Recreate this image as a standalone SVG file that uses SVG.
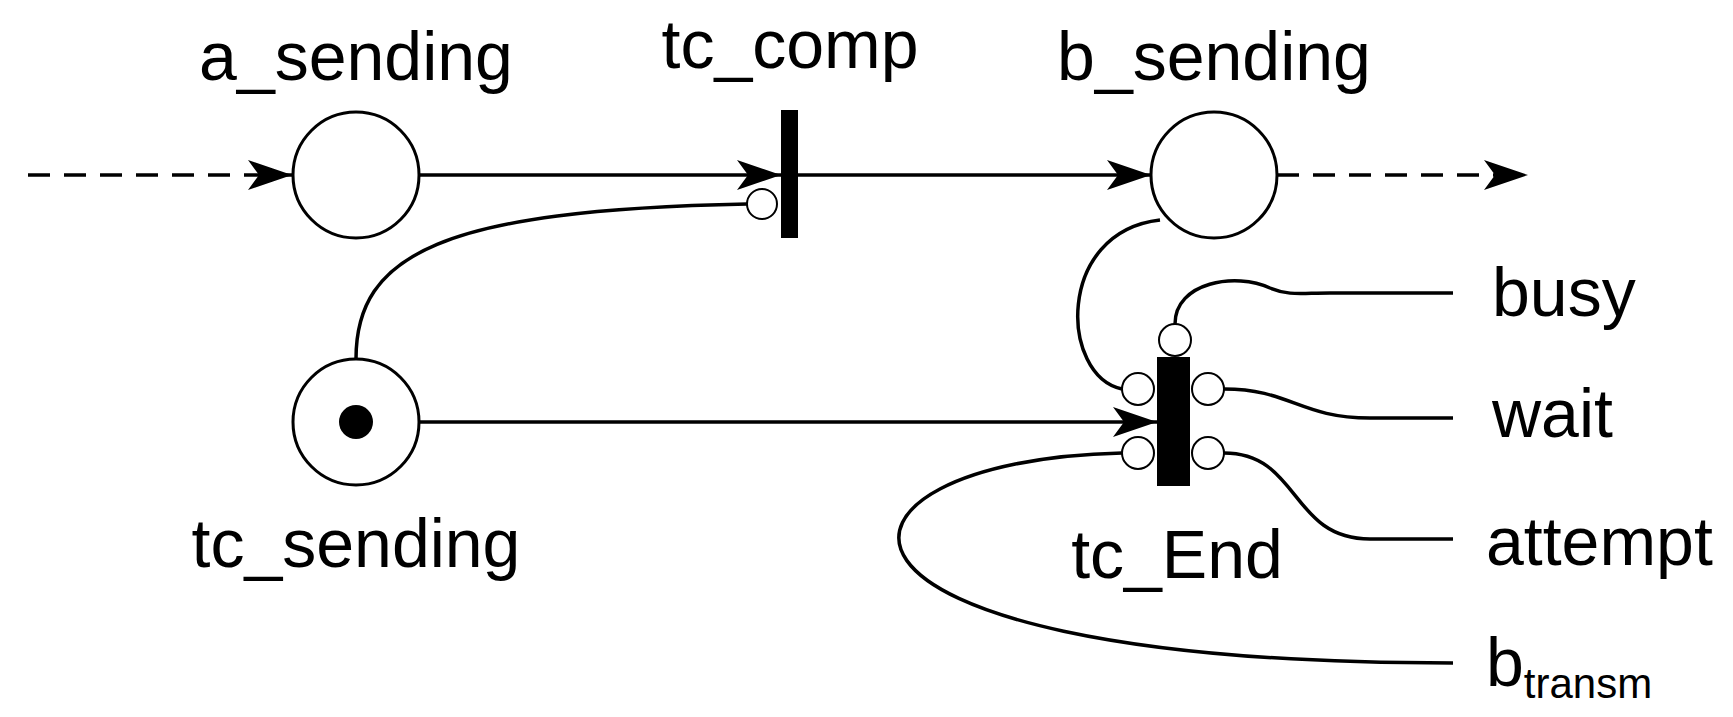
<svg xmlns="http://www.w3.org/2000/svg" width="1733" height="717" viewBox="0 0 1733 717">
<style>
.p{fill:#fff;stroke:#000;stroke-width:3}
.i{fill:#fff;stroke:#000;stroke-width:2}
.l{fill:none;stroke:#000;stroke-width:3.5}
.d{stroke-dasharray:22,14}
text{font-family:"Liberation Sans",Arial,sans-serif;font-size:68px;fill:#000}
</style>
<defs><marker id="A" viewBox="0 0 12 10" refX="12" refY="5" markerWidth="44" markerHeight="30" markerUnits="userSpaceOnUse" orient="auto" preserveAspectRatio="none"><path d="M0,0L12,5L0,10L3,5z"/></marker></defs>
<g id="connectors">
<path class="l d" d="M28,175H292" marker-end="url(#A)"/>
<path class="l" d="M419,175H781" marker-end="url(#A)"/>
<path class="l" d="M798,175H1151" marker-end="url(#A)"/>
<path class="l d" d="M1277,175H1528" marker-end="url(#A)"/>
<path class="l" d="M419,422H1157" marker-end="url(#A)"/>
<path class="l" d="M747,204C442,210 356,254 356,359"/>
<path class="l" d="M1160,220C1055,232 1060,376 1122,389"/>
<path class="l" d="M1175,324C1175,282 1236,272 1270,288C1290,296 1300,293 1330,293L1453,293"/>
<path class="l" d="M1224,389C1290,389 1300,418 1370,418L1453,418"/>
<path class="l" d="M1224,453C1300,453 1290,539 1370,539L1453,539"/>
<path class="l" d="M1122,453C800,460 760,663 1453,663"/>
</g>
<g id="a_sending"><circle class="p" cx="356" cy="175" r="63"/><text x="356" y="80" text-anchor="middle">a_sending</text></g>
<g id="b_sending"><circle class="p" cx="1214" cy="175" r="63"/><text x="1214" y="80" text-anchor="middle">b_sending</text></g>
<g id="tc_sending"><circle class="p" cx="356" cy="422" r="63"/><circle cx="356" cy="422" r="17"/><text x="356" y="567" text-anchor="middle">tc_sending</text></g>
<g id="tc_comp"><rect x="781" y="110" width="17" height="128"/><circle class="i" cx="762" cy="204" r="15"/><text x="790" y="68" text-anchor="middle">tc_comp</text></g>
<g id="tc_End"><rect x="1157" y="357" width="33" height="129"/>
<circle class="i" cx="1138" cy="389" r="16"/><circle class="i" cx="1138" cy="453" r="16"/><circle class="i" cx="1208" cy="389" r="16"/><circle class="i" cx="1208" cy="453" r="16"/><circle class="i" cx="1175" cy="340" r="16"/>
<text x="1177" y="578" text-anchor="middle">tc_End</text></g>
<g id="labels"><text x="1492" y="316">busy</text><text x="1492" y="437">wait</text><text x="1486" y="565">attempt</text><text x="1486" y="686">b<tspan font-size="42" dy="12">transm</tspan></text></g>
</svg>
